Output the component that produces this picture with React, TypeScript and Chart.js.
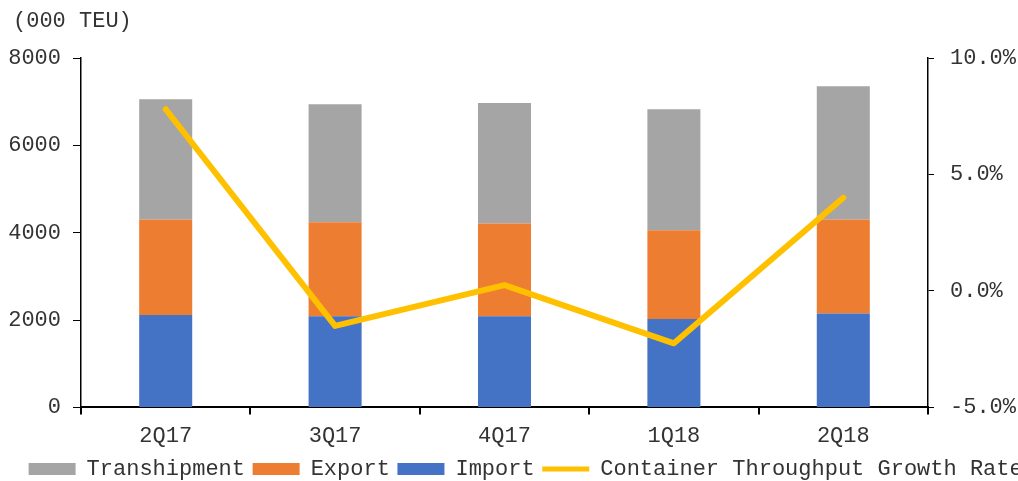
import React, { useEffect, useRef } from "react";
import { Chart, registerables } from "chart.js";

Chart.register(...registerables);

// ---- Data ----
const categories = ["2Q17", "3Q17", "4Q17", "1Q18", "2Q18"];
const importValues = [2116, 2086, 2086, 2024, 2148];
const exportValues = [2187, 2155, 2125, 2033, 2155];
const transhipmentValues = [2750, 2698, 2757, 2767, 3048];
const growthRate = [7.8, -1.5, 0.25, -2.25, 4.0];
const leftAxisRange = [0, 8000, 2000]; // min, max, step
const rightAxisRange = [-5, 10, 5];
const unitLabel = "(000 TEU)";
const seriesNames = ["Import", "Export", "Transhipment", "Container Throughput Growth Rate"];

// ---- Styles ----
const FONT = "'Liberation Mono', 'DejaVu Sans Mono', monospace";
const TEXT = "#333333";
const BLUE = "#4472C4";
const ORANGE = "#ED7D31";
const GRAY = "#A5A5A5";
const GOLD = "#FFC000";
const LEGEND_LEFT = 21;

const unitTitlePlugin = {
  id: "unitTitle",
  afterLayout(chart: any) {
    // nudge the legend so it starts where the reference legend starts
    const lg = chart.legend;
    if (lg) {
      const w = lg.right - lg.left;
      lg.left = LEGEND_LEFT;
      lg.right = LEGEND_LEFT + w;
    }
  },
  afterDraw(chart: any) {
    const ctx = chart.ctx;
    ctx.save();
    ctx.font = `22px ${FONT}`;
    ctx.fillStyle = TEXT;
    ctx.textAlign = "left";
    ctx.textBaseline = "middle";
    ctx.fillText(unitLabel, 13, 21);
    ctx.restore();
  },
};

export default function App() {
  const canvasRef = useRef<HTMLCanvasElement | null>(null);

  useEffect(() => {
    if (!canvasRef.current) return;
    const barCommon = { yAxisID: "y", order: 1, barPercentage: 0.313, categoryPercentage: 1 };
    const chart = new Chart(canvasRef.current, {
      type: "bar",
      data: {
        labels: categories,
        datasets: [
          { type: "bar", label: seriesNames[0], data: importValues, backgroundColor: BLUE, ...barCommon },
          { type: "bar", label: seriesNames[1], data: exportValues, backgroundColor: ORANGE, ...barCommon },
          { type: "bar", label: seriesNames[2], data: transhipmentValues, backgroundColor: GRAY, ...barCommon },
          {
            type: "line",
            label: seriesNames[3],
            data: growthRate,
            borderColor: GOLD,
            backgroundColor: GOLD,
            borderWidth: 6,
            pointRadius: 0,
            tension: 0,
            borderCapStyle: "round",
            borderJoinStyle: "round",
            yAxisID: "y1",
            order: 0,
          },
        ] as any,
      },
      options: {
        responsive: false,
        animation: false,
        layout: { padding: { top: 58, left: 0, right: 0, bottom: 0 } },
        plugins: {
          tooltip: { enabled: false },
          title: { display: false },
          legend: {
            display: true,
            position: "bottom",
            align: "start",
            labels: {
              usePointStyle: true,
              pointStyleWidth: 47,
              boxHeight: 12,
              padding: 7.6,
              color: TEXT,
              font: { family: FONT, size: 22 },
              generateLabels(chart: any) {
                const base = Chart.defaults.plugins.legend.labels.generateLabels(chart);
                const order = [2, 1, 0, 3];
                return order
                  .map((i) => base.find((l: any) => l.datasetIndex === i))
                  .filter(Boolean)
                  .map((l: any) => {
                    const isLine = l.datasetIndex === 3;
                    return {
                      ...l,
                      pointStyle: isLine ? "line" : "rect",
                      lineWidth: isLine ? 5 : 0,
                      strokeStyle: isLine ? GOLD : l.fillStyle,
                      fillStyle: isLine ? GOLD : l.fillStyle,
                    };
                  });
              },
            },
          },
        },
        scales: {
          x: {
            stacked: true,
            offset: true,
            grid: {
              offset: true,
              drawOnChartArea: false,
              drawTicks: true,
              tickLength: 7,
              color: "#000",
              lineWidth: 2,
            },
            border: { display: true, color: "#000", width: 2 },
            ticks: { color: TEXT, font: { family: FONT, size: 22 }, padding: 9 },
            afterFit(scale: any) {
              scale.height = 43;
            },
          },
          y: {
            stacked: true,
            position: "left",
            min: leftAxisRange[0],
            max: leftAxisRange[1],
            grid: { drawOnChartArea: false, tickLength: 8, color: "#000", lineWidth: 1 },
            border: { display: true, color: "#000", width: 1.5 },
            ticks: {
              stepSize: leftAxisRange[2],
              color: TEXT,
              font: { family: FONT, size: 22 },
              padding: 12,
              callback: (v: any) => String(v),
            },
            afterFit(scale: any) {
              scale.width = 81;
            },
          },
          y1: {
            position: "right",
            min: rightAxisRange[0],
            max: rightAxisRange[1],
            grid: { drawOnChartArea: false, tickLength: 6, color: "#000", lineWidth: 1 },
            border: { display: true, color: "#000", width: 1.5 },
            ticks: {
              stepSize: rightAxisRange[2],
              color: TEXT,
              font: { family: FONT, size: 22 },
              padding: 16,
              callback: (v: any) => Number(v).toFixed(1) + "%",
            },
            afterFit(scale: any) {
              scale.width = 90;
            },
          },
        },
      } as any,
      plugins: [unitTitlePlugin],
    });
    return () => chart.destroy();
  }, []);

  return (
    <div
      style={{
        position: "absolute",
        left: 0,
        top: 0,
        width: 1018,
        height: 481,
        overflow: "hidden",
        background: "#fff",
      }}
    >
      <canvas ref={canvasRef} width={1018} height={490} style={{ display: "block" }} />
    </div>
  );
}
